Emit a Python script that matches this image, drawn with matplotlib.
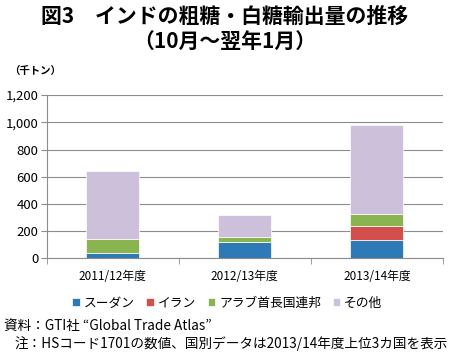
import matplotlib
matplotlib.use("Agg")
import matplotlib.pyplot as plt
import numpy as np

plt.rcParams['font.family'] = ['Noto Sans CJK JP', 'DejaVu Sans']

categories = ["2011/12年度", "2012/13年度", "2013/14年度"]
series_names = ["スーダン", "イラン", "アラブ首長国連邦", "その他"]
sudan = [37, 118, 137]
iran = [0, 0, 104]
uae = [105, 41, 88]
other = [497, 158, 650]
colors = ["#2e7ab6", "#d24f4b", "#8ab44f", "#cdc0da"]
yticks = [0, 200, 400, 600, 800, 1000, 1200]

fig = plt.figure(figsize=(4.5, 3.56), dpi=100)
ax = fig.add_axes([0.104, 0.274, 0.88, 0.459])

x = np.arange(len(categories))
bottom = np.zeros(len(categories))
handles = []
for vals, name, c in zip([sudan, iran, uae, other], series_names, colors):
    b = ax.bar(x, vals, width=0.4, bottom=bottom, color=c, label=name,
               edgecolor='white', linewidth=0.5)
    bottom += np.array(vals)
    handles.append(b)

ax.set_xlim(-0.5, 2.5)
ax.set_ylim(0, 1200)
ax.set_yticks(yticks)
ax.set_yticklabels([f"{v:,}" for v in yticks], fontsize=9.5)
ax.yaxis.grid(True, color='#8c8c8c', linewidth=0.8)
ax.set_axisbelow(True)
ax.set_xticks(x)
ax.set_xticklabels(categories, fontsize=8.5)
ax.set_xticks([-0.5, 0.5, 1.5, 2.5], minor=True)
ax.tick_params(axis='x', which='major', length=0, pad=8)
ax.tick_params(axis='x', which='minor', length=4, color='#8c8c8c')
ax.tick_params(axis='y', length=4, color='#8c8c8c', pad=2)
for s in ['top', 'right']:
    ax.spines[s].set_visible(False)
for s in ['left', 'bottom']:
    ax.spines[s].set_color('#8c8c8c')

fig.text(0.5, 0.955, "図3　インドの粗糖・白糖輸出量の推移", ha='center', va='center',
         fontsize=15, fontweight='bold')
fig.text(0.5, 0.885, "（10月～翌年1月）", ha='center', va='center',
         fontsize=15, fontweight='bold')
fig.text(0.02, 0.80, "（千トン）", ha='left', va='center', fontsize=7.5, fontweight='bold')

fig.legend(handles=handles, labels=series_names, loc='center', bbox_to_anchor=(0.505, 0.148),
           ncol=4, frameon=False, fontsize=9.2, handlelength=0.6, handleheight=0.6,
           handletextpad=0.3, columnspacing=0.9)

fig.text(0.008, 0.085, "資料：GTI社 “Global Trade Atlas”", ha='left', va='center', fontsize=9.8)
fig.text(0.033, 0.035, "注：HSコード1701の数値、国別データは2013/14年度上位3カ国を表示",
         ha='left', va='center', fontsize=9.8)

fig.savefig("out.png", dpi=100)
